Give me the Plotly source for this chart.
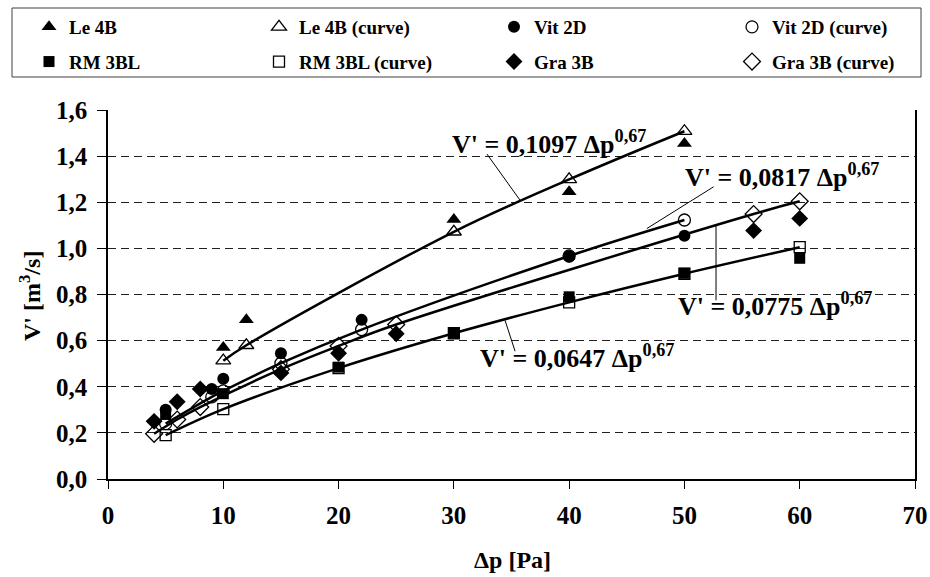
import plotly.graph_objects as go

# ---------------- data ----------------
le_x = [10, 12, 30, 40, 50]
le_y = [0.57, 0.69, 1.125, 1.245, 1.455]
le_curve_y = [0.513, 0.580, 1.072, 1.299, 1.508]

vit_x = [5, 9, 10, 15, 22, 40, 50]
vit_y = [0.30, 0.39, 0.435, 0.545, 0.69, 0.965, 1.055]
vit_curve_y = [0.240, 0.356, 0.382, 0.502, 0.648, 0.967, 1.123]

rm_x = [5, 10, 20, 30, 40, 50, 60]
rm_y = [0.28, 0.37, 0.485, 0.632, 0.79, 0.892, 0.957]
rm_curve_y = [0.190, 0.303, 0.481, 0.632, 0.766, 0.890, 1.005]

gra_x = [4, 6, 8, 15, 20, 25, 56, 60]
gra_y = [0.25, 0.335, 0.39, 0.46, 0.545, 0.63, 1.077, 1.13]
gra_curve_y = [0.196, 0.258, 0.312, 0.476, 0.577, 0.670, 1.149, 1.204]

names = ["Le 4B", "Vit 2D", "RM 3BL", "Gra 3B"]
coefs = ["0,1097", "0,0817", "0,0647", "0,0775"]
exponent = "0,67"

x_ticks = [0, 10, 20, 30, 40, 50, 60, 70]
y_ticks = [0.0, 0.2, 0.4, 0.6, 0.8, 1.0, 1.2, 1.4, 1.6]
x_title = "Δp [Pa]"
y_title = "V' [m<sup>3</sup>/s]"

# ---------------- layout geometry ----------------
W, H = 930, 577
ML, MR, MT, MB = 108, 15, 110, 98
PW = W - ML - MR
PH = H - MT - MB

def px_x(p):
    return (p - ML) / PW

def px_y(p):
    return (H - MB - p) / PH

FONT = "Liberation Serif"
BLACK = "#000000"

fig = go.Figure()

series = [
    (names[0], le_x, le_y, le_curve_y, "triangle-up", 13),
    (names[1], vit_x, vit_y, vit_curve_y, "circle", 12),
    (names[2], rm_x, rm_y, rm_curve_y, "square", 11),
    (names[3], gra_x, gra_y, gra_curve_y, "diamond", 13),
]

# fitted curves (smooth lines through the curve points)
for name, xs, ys, cys, sym, sz in series:
    fig.add_trace(go.Scatter(
        x=xs, y=cys, mode="lines", line=dict(color=BLACK, width=2.5, shape="spline"),
        showlegend=False, hoverinfo="skip"))

legend_of = {names[0]: ("legend", "legend2"), names[2]: ("legend", "legend2"),
             names[1]: ("legend3", "legend4"), names[3]: ("legend3", "legend4")}

order = [0, 2, 1, 3]
for i in order:
    name, xs, ys, cys, sym, sz = series[i]
    lg_m, lg_c = legend_of[name]
    fig.add_trace(go.Scatter(
        x=xs, y=ys, mode="markers", name=name, legend=lg_m, legendgroup=name,
        marker=dict(symbol=sym, size=sz, color=BLACK, line=dict(width=0))))
    fig.add_trace(go.Scatter(
        x=xs, y=cys, mode="markers", name=name + " (curve)", legend=lg_c,
        legendgroup=name + "c",
        marker=dict(symbol=sym + "-open", size=sz, color=BLACK, line=dict(width=1.3))))

# ---------------- equations ----------------
eq_pos = [  # (x, y) of left edge / middle of text, in data units
    (29.66, 1.46),
    (49.9, 1.315),
    (32.1, 0.53),
    (49.3, 0.755),
]
for (xx, yy), c in zip(eq_pos, coefs):
    fig.add_annotation(
        x=xx, y=yy, xref="x", yref="y", xanchor="left", yanchor="middle",
        text=f"V' = {c} Δp<sup>{exponent}</sup>", showarrow=False,
        font=dict(family=FONT, size=26, color=BLACK, weight="bold"))

leaders = [
    (32.87, 1.409, 35.74, 1.209),
    (52.53, 1.267, 46.74, 1.086),
    (34.44, 0.688, 35.31, 0.554),
    (52.74, 1.101, 52.74, 0.775),
]
for x0, y0, x1, y1 in leaders:
    fig.add_shape(type="line", xref="x", yref="y", x0=x0, y0=y0, x1=x1, y1=y1,
                  line=dict(color=BLACK, width=1))

# axis titles
fig.add_annotation(x=px_x(512), y=px_y(560), xref="paper", yref="paper",
                   text=x_title, showarrow=False, xanchor="center", yanchor="middle",
                   font=dict(family=FONT, size=24, color=BLACK, weight="bold"))
fig.add_annotation(x=px_x(30), y=px_y(296), xref="paper", yref="paper",
                   text=y_title, showarrow=False, textangle=-90,
                   xanchor="center", yanchor="middle",
                   font=dict(family=FONT, size=24, color=BLACK, weight="bold"))

# legend frame
fig.add_shape(type="rect", xref="paper", yref="paper",
              x0=px_x(12), x1=px_x(921), y0=px_y(8), y1=px_y(77),
              line=dict(color="#404040", width=1), fillcolor="rgba(0,0,0,0)")

leg_common = dict(orientation="v", xref="container", yref="container",
                  xanchor="left", yanchor="top", bgcolor="rgba(0,0,0,0)",
                  borderwidth=0, tracegroupgap=7, traceorder="grouped",
                  font=dict(family=FONT, size=19, color=BLACK, weight="bold"))
col_x = [49, 279, 514, 752]
legs = {}
for k, cx in zip(["legend", "legend2", "legend3", "legend4"], col_x):
    legs[k] = dict(leg_common, x=(cx - 20) / W, y=1 - 8 / H)

fig.update_layout(
    width=W, height=H, autosize=False,
    margin=dict(l=ML, r=MR, t=MT, b=MB, autoexpand=False),
    paper_bgcolor="white", plot_bgcolor="white",
    separators=", ",
    font=dict(family=FONT, color=BLACK, weight="bold"),
    showlegend=True,
    **legs,
)

fig.update_xaxes(
    range=[0, 70], tickvals=x_ticks, ticks="outside", ticklen=8, tickwidth=1,
    tickcolor=BLACK, showline=True, linecolor=BLACK, linewidth=1.5,
    showgrid=False, zeroline=False, ticklabelstandoff=5, automargin=False,
    ticklabeloverflow="allow",
    tickfont=dict(family=FONT, size=25, color=BLACK, weight="bold"),
)
fig.update_yaxes(
    range=[0, 1.6], tickvals=y_ticks, tickformat=".1f", ticks="outside", ticklen=9,
    tickwidth=1, tickcolor=BLACK, showline=True, linecolor=BLACK, linewidth=1.5,
    mirror=True, showgrid=True, gridcolor="#202020", gridwidth=1, griddash="8px,5px",
    zeroline=False, ticklabelstandoff=5, automargin=False,
    ticklabeloverflow="allow",
    tickfont=dict(family=FONT, size=25, color=BLACK, weight="bold"),
)

fig.write_html("out.html", config={"displayModeBar": False},
               post_script="document.body.style.margin='0';document.body.style.overflow='hidden';")
